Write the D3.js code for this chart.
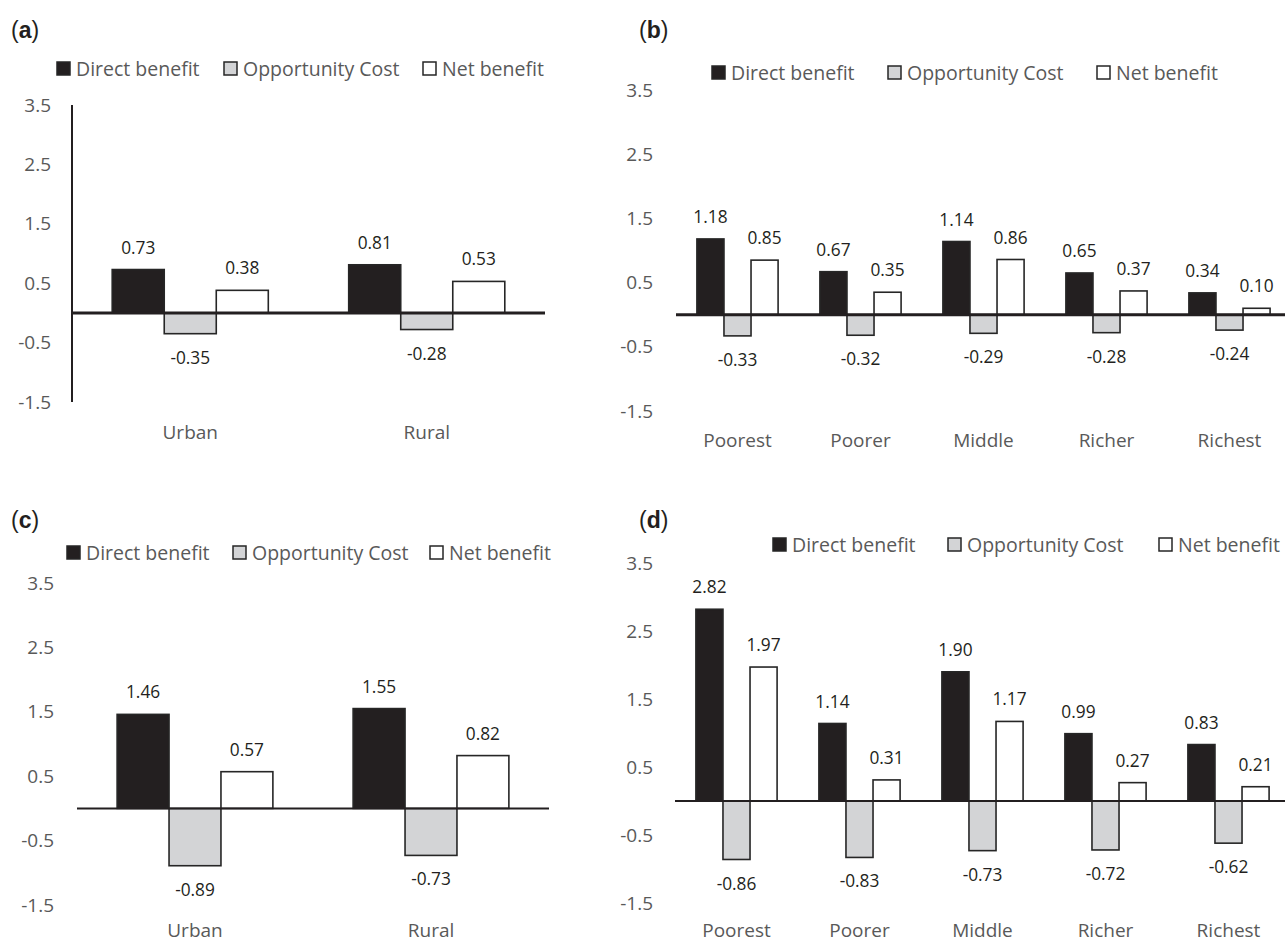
<!DOCTYPE html>
<html>
<head>
<meta charset="utf-8">
<script src="https://cdn.jsdelivr.net/npm/d3@7"></script>
<style>
  html, body { margin: 0; padding: 0; background: #fff; }
  svg { display: block; }
  text { font-family: "Open Sans", "Noto Sans", sans-serif; }
</style>
</head>
<body>
<svg id="chart" width="1285" height="943"></svg>
<script>
// ---------- DATA ----------
const seriesNames = ["Direct benefit", "Opportunity Cost", "Net benefit"];
const areaCategories = ["Urban", "Rural"];
const quintileCategories = ["Poorest", "Poorer", "Middle", "Richer", "Richest"];
const yTickValues = [-1.5, -0.5, 0.5, 1.5, 2.5, 3.5];

// panel (a)
const aDirect = [0.73, 0.81];
const aOpportunity = [-0.35, -0.28];
const aNet = [0.38, 0.53];
// panel (b)
const bDirect = [1.18, 0.67, 1.14, 0.65, 0.34];
const bOpportunity = [-0.33, -0.32, -0.29, -0.28, -0.24];
const bNet = [0.85, 0.35, 0.86, 0.37, 0.10];
// panel (c)
const cDirect = [1.46, 1.55];
const cOpportunity = [-0.89, -0.73];
const cNet = [0.57, 0.82];
// panel (d)
const dDirect = [2.82, 1.14, 1.90, 0.99, 0.83];
const dOpportunity = [-0.86, -0.83, -0.73, -0.72, -0.62];
const dNet = [1.97, 0.31, 1.17, 0.27, 0.21];

// ---------- STYLE ----------
const fills = ["#231f20", "#d3d4d6", "#ffffff"];
const strokeCol = "#262626";
const tickCol = "#595959";

const locale = d3.formatLocale({ decimal: ".", thousands: ",", grouping: [3], currency: ["", ""], minus: "-" });
const fmt1 = locale.format(".1f");
const fmt2 = locale.format(".2f");

const panels = [
  { tag: "a", cats: areaCategories, vals: [aDirect, aOpportunity, aNet],
    labelX: 11, labelY: 30, legendSq: [57, 224, 423], legendY: 69,
    xr: [72, 545], yr: [402, 105], tickX: 51, catY: 432, yAxis: true, zeroW: 3 },
  { tag: "b", cats: quintileCategories, vals: [bDirect, bOpportunity, bNet],
    labelX: 639, labelY: 30, legendSq: [712, 888, 1097], legendY: 73,
    xr: [676, 1291], yr: [411, 90], tickX: 653, catY: 440, yAxis: false, zeroW: 3 },
  { tag: "c", cats: areaCategories, vals: [cDirect, cOpportunity, cNet],
    labelX: 11, labelY: 520, legendSq: [67, 233, 430], legendY: 553,
    xr: [77, 549], yr: [905, 583], tickX: 54, catY: 930, yAxis: false, zeroW: 2 },
  { tag: "d", cats: quintileCategories, vals: [dDirect, dOpportunity, dNet],
    labelX: 639, labelY: 520, legendSq: [773, 948, 1159], legendY: 545,
    xr: [675, 1290], yr: [903, 563], tickX: 653, catY: 930, yAxis: false, zeroW: 2 }
];

const svg = d3.select("#chart");

panels.forEach(p => {
  const g = svg.append("g");

  // panel label
  const lab = g.append("text")
    .attr("x", p.labelX).attr("y", p.labelY).attr("dy", "0.35em")
    .style("font-family", "'Liberation Sans', Arial, sans-serif")
    .style("font-size", "23px").attr("fill", "#231f20");
  lab.append("tspan").text("(");
  lab.append("tspan").attr("font-weight", "bold").text(p.tag);
  lab.append("tspan").text(")");

  // legend
  seriesNames.forEach((s, i) => {
    g.append("rect")
      .attr("x", p.legendSq[i]).attr("y", p.legendY - 7)
      .attr("width", 13).attr("height", 13)
      .attr("fill", fills[i]).attr("stroke", strokeCol).attr("stroke-width", 1.5);
    g.append("text")
      .attr("x", p.legendSq[i] + 19).attr("y", p.legendY).attr("dy", "0.35em")
      .style("font-size", "19.5px").attr("fill", tickCol).text(s);
  });

  // scales
  const y = d3.scaleLinear().domain([-1.5, 3.5]).range(p.yr);
  const x0 = d3.scaleBand().domain(p.cats).range(p.xr)
    .paddingInner(0.34).paddingOuter(0.17);
  const x1 = d3.scaleBand().domain(seriesNames).range([0, x0.bandwidth()]);

  // y tick labels via axis
  const yAxis = d3.axisLeft(y).tickValues(yTickValues).tickSize(0).tickPadding(0)
    .tickFormat(fmt1);
  const ya = g.append("g").attr("transform", `translate(${p.tickX},0)`).call(yAxis);
  ya.select(".domain").remove();
  ya.selectAll("text").style("font-size", "19px").attr("fill", tickCol)
    .style("font-family", "'Open Sans', sans-serif");

  if (p.yAxis) {
    g.append("line").attr("x1", p.xr[0]).attr("x2", p.xr[0])
      .attr("y1", y(3.5)).attr("y2", y(-1.5))
      .attr("stroke", "#231f20").attr("stroke-width", 2);
  }

  // bars
  p.cats.forEach((c, ci) => {
    seriesNames.forEach((s, si) => {
      const v = p.vals[si][ci];
      const bx = x0(c) + x1(s);
      const top = y(Math.max(0, v)), bot = y(Math.min(0, v));
      g.append("rect")
        .attr("x", bx).attr("y", top)
        .attr("width", x1.bandwidth()).attr("height", bot - top)
        .attr("fill", fills[si]).attr("stroke", strokeCol).attr("stroke-width", 1.6);
      g.append("text")
        .attr("x", bx + x1.bandwidth() / 2)
        .attr("y", v >= 0 ? top - 22 : bot + 24).attr("dy", "0.35em")
        .attr("text-anchor", "middle").style("font-size", "17.3px")
        .attr("fill", "#231f20").text(fmt2(v));
    });
    g.append("text")
      .attr("x", x0(c) + x0.bandwidth() / 2).attr("y", p.catY).attr("dy", "0.35em")
      .attr("text-anchor", "middle").style("font-size", "19px")
      .attr("fill", tickCol).text(c);
  });

  // zero line
  g.append("line").attr("x1", p.xr[0]).attr("x2", p.xr[1])
    .attr("y1", y(0)).attr("y2", y(0))
    .attr("stroke", "#231f20").attr("stroke-width", p.zeroW);
});
</script>
</body>
</html>
